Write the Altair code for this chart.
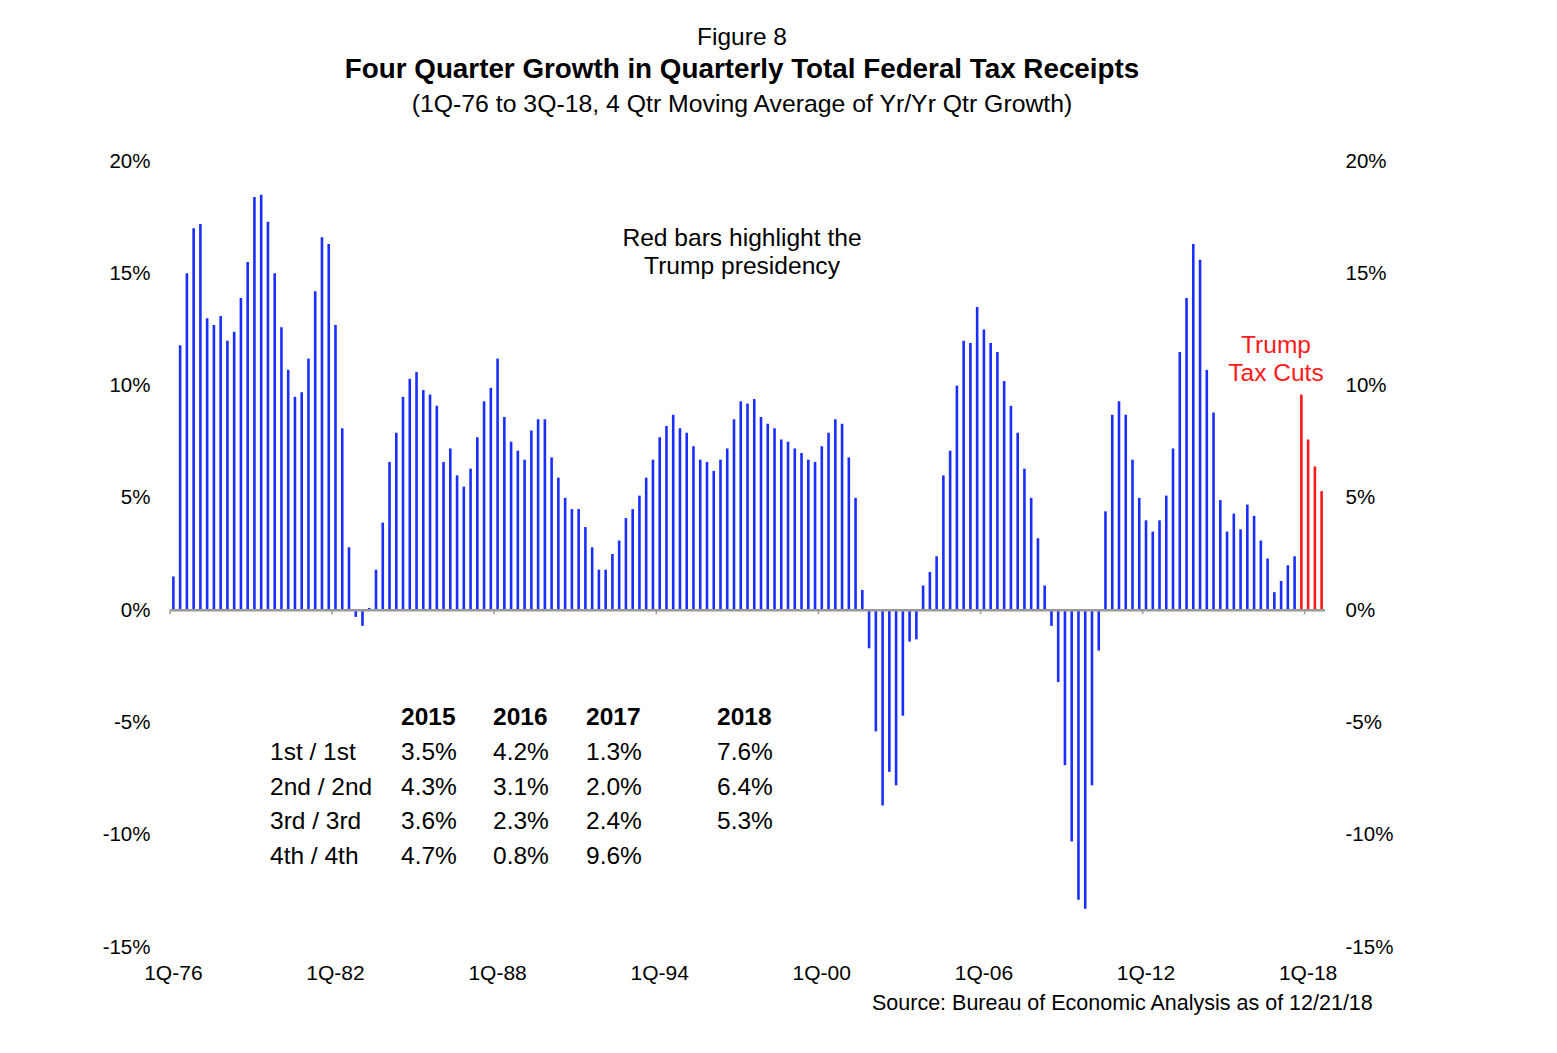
import altair as alt
import pandas as pd

# ---------------- data (four-quarter growth, %) ----------------
years = list(range(1976, 2019))

g_1976_1985 = [1.5, 11.8, 15.0, 17.0,
               17.2, 13.0, 12.7, 13.1,
               12.0, 12.4, 13.9, 15.5,
               18.4, 18.5, 17.3, 15.0,
               12.6, 10.7, 9.5, 9.7,
               11.2, 14.2, 16.6, 16.3,
               12.7, 8.1, 2.8, -0.3,
               -0.7, 0.1, 1.8, 3.9,
               6.6, 7.9, 9.5, 10.3,
               10.6, 9.8, 9.6, 9.1]
g_1986_1995 = [6.6, 7.2, 6.0, 5.5,
               6.3, 7.7, 9.3, 9.9,
               11.2, 8.6, 7.5, 7.1,
               6.7, 8.0, 8.5, 8.5,
               6.8, 5.9, 5.0, 4.5,
               4.5, 3.7, 2.8, 1.8,
               1.8, 2.5, 3.1, 4.1,
               4.5, 5.1, 5.9, 6.7,
               7.7, 8.2, 8.7, 8.1,
               7.9, 7.3, 6.7, 6.6]
g_1996_2005 = [6.2, 6.7, 7.2, 8.5,
               9.3, 9.2, 9.4, 8.6,
               8.3, 8.1, 7.6, 7.5,
               7.2, 7.0, 6.7, 6.6,
               7.3, 7.9, 8.5, 8.3,
               6.8, 5.0, 0.9, -1.7,
               -5.4, -8.7, -7.2, -7.8,
               -4.7, -1.4, -1.3, 1.1,
               1.7, 2.4, 6.0, 7.1,
               10.0, 12.0, 11.9, 13.5]
g_2006_2018 = [12.5, 11.9, 11.5, 10.2,
               9.1, 7.9, 6.3, 5.0,
               3.2, 1.1, -0.7, -3.2,
               -6.9, -10.3, -12.9, -13.3,
               -7.8, -1.8, 4.4, 8.7,
               9.3, 8.7, 6.7, 5.0,
               4.0, 3.5, 4.0, 5.1,
               7.2, 11.5, 13.9, 16.3,
               15.6, 10.7, 8.8, 4.9,
               3.5, 4.3, 3.6, 4.7,
               4.2, 3.1, 2.3, 0.8,
               1.3, 2.0, 2.4, 9.6,
               7.6, 6.4, 5.3]

values = g_1976_1985 + g_1986_1995 + g_1996_2005 + g_2006_2018
quarters = [f"{q}Q-{y % 100:02d}" for y in years for q in range(1, 5)][:len(values)]
trump_quarters = ["4Q-17", "1Q-18", "2Q-18", "3Q-18"]

axis_quarters = ["1Q-76", "1Q-82", "1Q-88", "1Q-94", "1Q-00", "1Q-06", "1Q-12", "1Q-18"]
y_ticks = [-15, -10, -5, 0, 5, 10, 15, 20]

table_years = ["2015", "2016", "2017", "2018"]
row_labels = ["1st / 1st", "2nd / 2nd", "3rd / 3rd", "4th / 4th"]
tbl_2015 = ["3.5%", "4.3%", "3.6%", "4.7%"]
tbl_2016 = ["4.2%", "3.1%", "2.3%", "0.8%"]
tbl_2017 = ["1.3%", "2.0%", "2.4%", "9.6%"]
tbl_2018 = ["7.6%", "6.4%", "5.3%"]

df = pd.DataFrame({"q": quarters, "v": values})
df["grp"] = ["Trump" if q in trump_quarters else "Other" for q in quarters]
tick_df = pd.DataFrame({"q": axis_quarters})

# ---------------- style ----------------
W, H = 1155, 786
FONT = "Liberation Sans"
BLUE = "#1a2eff"
RED = "#ff1a1a"
GRAY = "#999999"

xscale = alt.Scale(domain=quarters, paddingInner=0, paddingOuter=0)
yscale = alt.Scale(domain=[-15, 20], nice=False, zero=False)


def yaxis(orient):
    return alt.Axis(values=y_ticks, labelExpr="datum.value + '%'", domain=False,
                    ticks=False, grid=False, labelFontSize=20.5, labelFont=FONT,
                    labelColor="black", labelPadding=20, title=None, orient=orient)


bars = alt.Chart(df).mark_bar(size=2.6).encode(
    x=alt.X("q:N", scale=xscale, sort=None,
            axis=alt.Axis(values=axis_quarters, domain=False, ticks=False, grid=False,
                          labelAngle=0, labelFontSize=21, labelFont=FONT,
                          labelColor="black", labelPadding=15, title=None,
                          labelOverlap=False)),
    y=alt.Y("v:Q", scale=yscale, axis=yaxis("left")),
    color=alt.Color("grp:N", scale=alt.Scale(domain=["Other", "Trump"], range=[BLUE, RED]),
                    legend=None),
)

right = alt.Chart(df).mark_point(opacity=0).encode(
    x=alt.X("q:N", scale=xscale, sort=None, axis=None),
    y=alt.Y("v:Q", scale=yscale, axis=yaxis("right")),
)

zero = alt.Chart(pd.DataFrame({"z": [0]})).mark_rule(color=GRAY, strokeWidth=2.5).encode(
    y=alt.YDatum(0, scale=yscale, axis=None),
)

ticks = alt.Chart(tick_df).mark_rule(color=GRAY, strokeWidth=1.5, y2Offset=4).encode(
    x=alt.X("q:N", scale=xscale, sort=None, axis=None, bandPosition=0),
    y=alt.YDatum(0, scale=yscale, axis=None),
    y2=alt.Y2Datum(0),
)


def label(text, x, y, size=24, weight="normal", color="black", align="center",
          baseline="middle", line_height=None):
    props = dict(font=FONT, fontSize=size, fontWeight=weight, color=color,
                 align=align, baseline=baseline)
    if line_height is not None:
        props.update(lineBreak="\n", lineHeight=line_height)
    return alt.Chart(pd.DataFrame({"t": [text]})).mark_text(**props).encode(
        x=alt.value(x), y=alt.value(y), text="t:N")


texts = [
    label("Figure 8", 572, -123, size=24.5),
    label("Four Quarter Growth in Quarterly Total Federal Tax Receipts", 572, -91,
          size=27.8, weight="bold"),
    label("(1Q-76 to 3Q-18, 4 Qtr Moving Average of Yr/Yr Qtr Growth)", 572, -56, size=24.8),
    label("Red bars highlight the\nTrump presidency", 572, 66, size=24.6,
          baseline="top", line_height=28),
    label("Trump\nTax Cuts", 1106, 173, size=24.5, color=RED, baseline="top", line_height=28),
    label("Source:  Bureau of Economic Analysis as of 12/21/18", 702, 843, size=21.5,
          align="left"),
]

LH = 34.7
col_x = [231, 323, 416, 547]
for yr, cx in zip(table_years, col_x):
    texts.append(label(yr, cx, 557, size=24.5, weight="bold", align="left"))
texts.append(label("\n".join(row_labels), 100, 580, size=24.5, align="left",
                   baseline="top", line_height=LH))
for col, cx in zip([tbl_2015, tbl_2016, tbl_2017, tbl_2018], col_x):
    texts.append(label("\n".join(col), cx, 580, size=24.5, align="left",
                       baseline="top", line_height=LH))

chart = alt.layer(bars, right, zero, ticks, *texts).resolve_axis(
    y="independent", x="independent"
).properties(
    width=W, height=H,
    padding={"left": 170, "top": 161, "right": 232, "bottom": 106},
    autosize=alt.AutoSizeParams(type="none"),
    background="white",
).configure_view(stroke="transparent")

chart.save("out.html", embed_options={"renderer": "svg", "actions": False})
